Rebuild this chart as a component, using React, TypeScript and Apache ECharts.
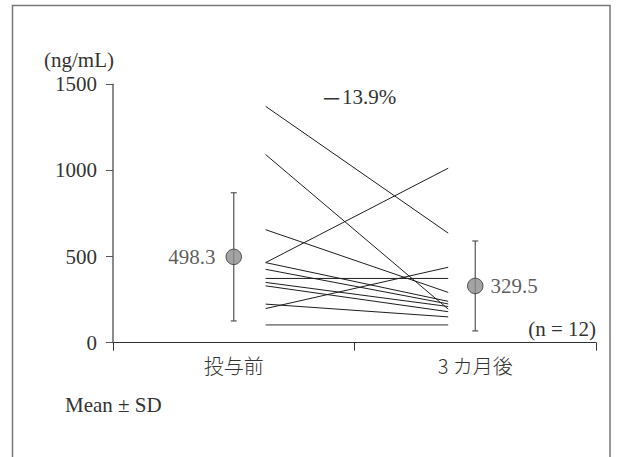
import React, { useEffect, useRef } from "react";
import * as echarts from "echarts";

const categories = ["投与前", "3 カ月後"];
const preValues = [1372, 1092, 656, 465, 465, 426, 373, 350, 330, 224, 198, 103];
const postValues = [636, 195, 292, 1013, 240, 225, 373, 210, 180, 150, 438, 103];
const meanValues = [498.3, 329.5];
const sdValues = [372, 261];
const yTicks = [0, 500, 1000, 1500];

const SERIF = "Liberation Serif";
const CJK = "Noto Sans CJK JP";

export default function App() {
  const ref = useRef<HTMLDivElement>(null);
  useEffect(() => {
    if (!ref.current) return;
    const chart = echarts.init(ref.current, undefined, { renderer: "svg" });
    const lineStartX = 0.632;
    const lineEndX = 1.388;
    const meanX = [0.5, 1.5];

    const subjectSeries = preValues.map((pre, i) => {
      const flat = pre === postValues[i] && pre < 150;
      return {
        type: "line",
        xAxisIndex: 1,
        symbol: "none",
        silent: true,
        z: 2,
        lineStyle: { color: flat ? "#8a8a8a" : "#1e1e1e", width: flat ? 1.8 : 1 },
        data: [
          [lineStartX, pre],
          [lineEndX, postValues[i]],
        ],
      };
    });

    const errData = meanValues.map((m, i) => [meanX[i], m - sdValues[i], m + sdValues[i]]);

    chart.setOption({
      animation: false,
      backgroundColor: "#fff",
      grid: { left: 113, right: 26, top: 84.3, bottom: 114.3 },
      xAxis: [
        {
          type: "category",
          data: categories,
          boundaryGap: true,
          axisLine: { lineStyle: { color: "#333", width: 1 } },
          axisTick: { show: true, length: 8, alignWithLabel: false, lineStyle: { color: "#333" } },
          axisLabel: { margin: 13, fontSize: 20, color: "#333", fontFamily: CJK, fontWeight: 300 },
          splitLine: { show: false },
        },
        {
          type: "value",
          min: 0,
          max: 2,
          show: false,
          splitLine: { show: false },
        },
      ],
      yAxis: {
        type: "value",
        min: 0,
        max: 1500,
        interval: 500,
        axisLine: { show: true, lineStyle: { color: "#666", width: 1.5 } },
        axisTick: { show: true, length: 7, lineStyle: { color: "#555" } },
        axisLabel: {
          margin: 16,
          fontSize: 21,
          color: "#333",
          fontFamily: SERIF,
          formatter: (v: number) => (yTicks.includes(v) ? String(v) : ""),
        },
        splitLine: { show: false },
      },
      series: [
        ...subjectSeries,
        {
          type: "custom",
          xAxisIndex: 1,
          z: 3,
          silent: true,
          data: errData,
          encode: { x: 0, y: [1, 2] },
          renderItem: (params: any, api: any) => {
            const x = api.value(0);
            const lo = api.coord([x, api.value(1)]);
            const hi = api.coord([x, api.value(2)]);
            const cap = 3;
            const style = { stroke: "#555", lineWidth: 1.2 };
            return {
              type: "group",
              children: [
                { type: "line", shape: { x1: lo[0], y1: lo[1], x2: hi[0], y2: hi[1] }, style },
                { type: "line", shape: { x1: lo[0] - cap, y1: lo[1], x2: lo[0] + cap, y2: lo[1] }, style },
                { type: "line", shape: { x1: hi[0] - cap, y1: hi[1], x2: hi[0] + cap, y2: hi[1] }, style },
              ],
            };
          },
        },
        {
          type: "scatter",
          xAxisIndex: 1,
          z: 4,
          symbol: "circle",
          symbolSize: 15.5,
          itemStyle: { color: "#8c8c8c", borderColor: "#333", borderWidth: 1 },
          label: {
            show: true,
            fontSize: 21,
            color: "#333",
            fontFamily: SERIF,
            formatter: (p: any) => String(p.value[1]),
          },
          data: meanValues.map((m, i) => ({
            value: [meanX[i], m],
            label: i === 0 ? { position: "left", distance: 10 } : { position: "right", distance: 7 },
          })),
        },
      ],
      graphic: [
        {
          type: "rect",
          shape: { x: 12.5, y: 5.5, width: 597.5, height: 480 },
          style: { fill: "none", stroke: "#777", lineWidth: 1.5 },
          silent: true,
        },
        {
          type: "text",
          x: 114,
          y: 60,
          style: {
            text: "(ng/mL)",
            fontSize: 21,
            fontFamily: SERIF,
            fill: "#333",
            textAlign: "right",
            textVerticalAlign: "middle",
          },
        },
        {
          type: "text",
          x: 321,
          y: 97,
          style: {
            text: "－",
            fontSize: 21,
            fontFamily: CJK,
            fill: "#333",
            textAlign: "left",
            textVerticalAlign: "middle",
          },
        },
        {
          type: "text",
          x: 342,
          y: 97,
          style: {
            text: "13.9%",
            fontSize: 21,
            fontFamily: SERIF,
            fill: "#333",
            textAlign: "left",
            textVerticalAlign: "middle",
          },
        },
        {
          type: "text",
          x: 596,
          y: 329,
          style: {
            text: "(n = 12)",
            fontSize: 21,
            fontFamily: SERIF,
            fill: "#333",
            textAlign: "right",
            textVerticalAlign: "middle",
          },
        },
        {
          type: "text",
          x: 65,
          y: 405,
          style: {
            text: "Mean ± SD",
            fontSize: 21,
            fontFamily: SERIF,
            fill: "#333",
            textAlign: "left",
            textVerticalAlign: "middle",
          },
        },
      ],
    });
    return () => chart.dispose();
  }, []);
  return (
    <div
      ref={ref}
      style={{ position: "fixed", left: 0, top: 0, width: 622, height: 457, background: "#fff" }}
    />
  );
}
